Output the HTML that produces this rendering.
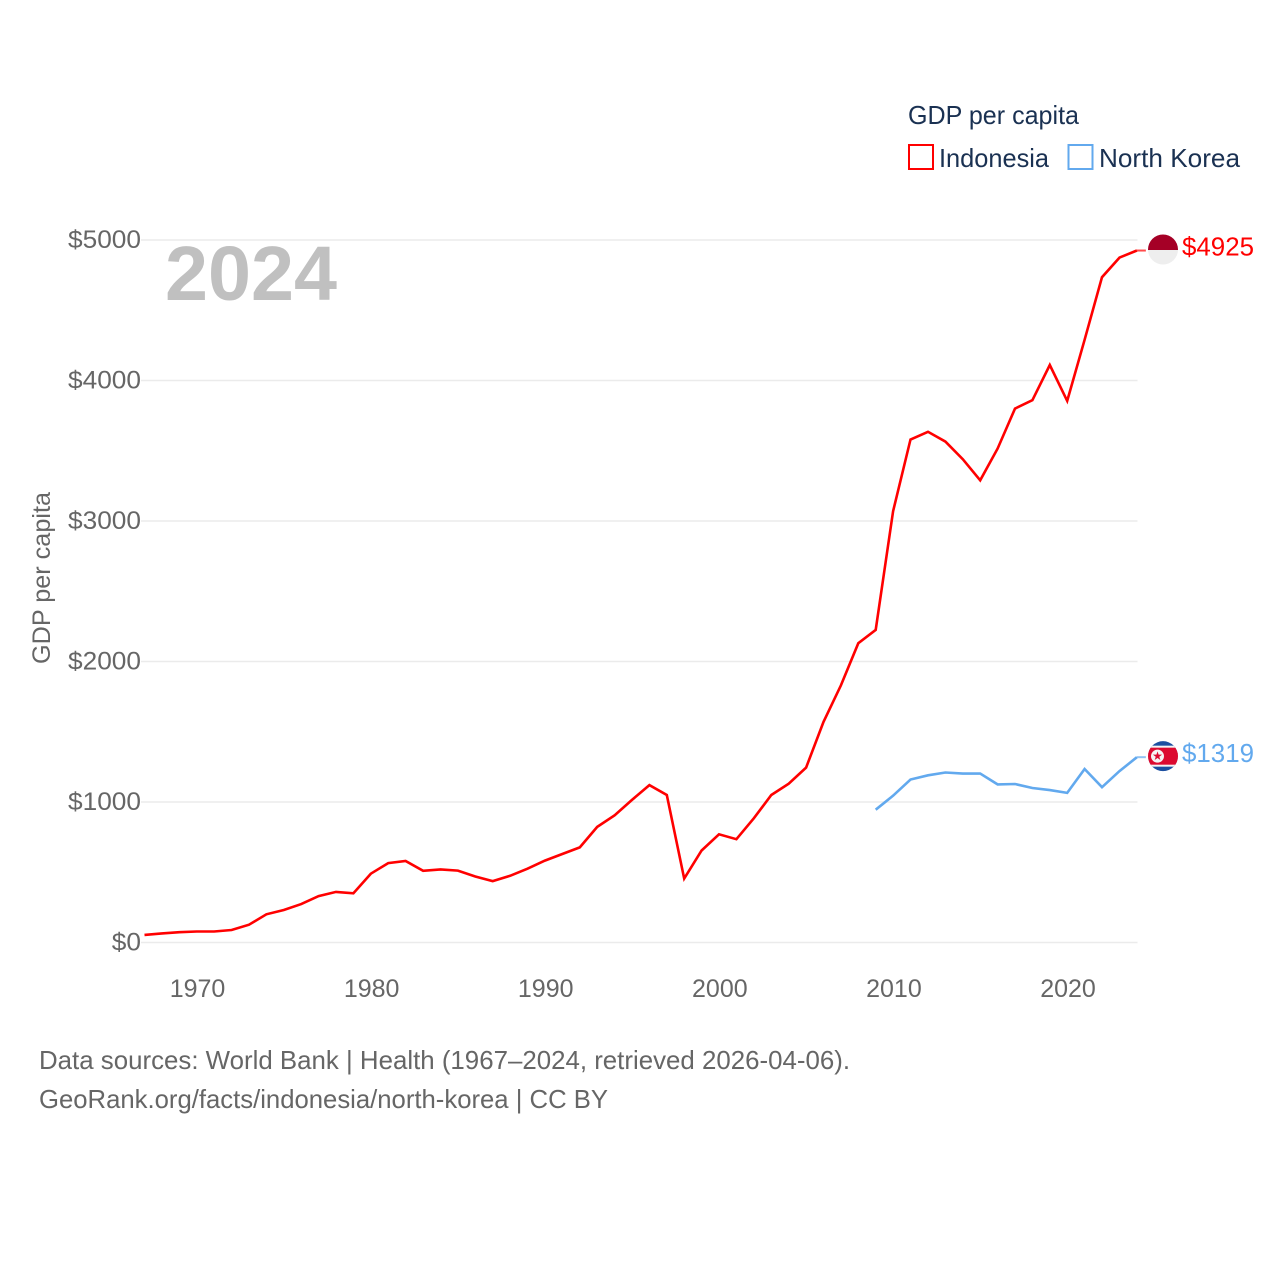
<!DOCTYPE html>
<html lang="en">
<head>
<meta charset="utf-8">
<title>GDP per capita: Indonesia and North Korea</title>
<style>
html,body{margin:0;padding:0;background:#fff;width:1280px;height:1280px;overflow:hidden}
svg{display:block}
text{font-family:"Liberation Sans",sans-serif}
</style>
</head>
<body>
<svg id="chart" xmlns="http://www.w3.org/2000/svg" width="1280" height="1280" viewBox="0 0 1280 1280">
  <defs>
    <clipPath id="clip-id"><circle id="clip-id-c" cx="1163" cy="250" r="15"></circle></clipPath>
    <clipPath id="clip-kp"><circle id="clip-kp-c" cx="1163" cy="757" r="15"></circle></clipPath>
  </defs>
  <g id="grid"></g>
  <g id="yticks"></g>
  <g id="xticks"></g>
  <text x="165" y="300" font-size="77" font-weight="700" fill="#c0c0c0" textLength="172" lengthAdjust="spacingAndGlyphs">2024</text>
  <text transform="translate(50,664) rotate(-90)" font-size="25" fill="#666" textLength="172" lengthAdjust="spacingAndGlyphs">GDP per capita</text>
  <g id="series"></g>
  <g id="flags"></g>
  <g>
    <text x="908" y="124" font-size="26" fill="#1a3152" textLength="171" lengthAdjust="spacingAndGlyphs">GDP per capita</text>
    <rect x="909" y="145" width="24" height="24" fill="none" stroke="#ff0000" stroke-width="2"></rect>
    <text x="939" y="167" font-size="26" fill="#1a3152" textLength="110" lengthAdjust="spacingAndGlyphs">Indonesia</text>
    <rect x="1068.5" y="145" width="24" height="24" fill="none" stroke="#62a9ee" stroke-width="2"></rect>
    <text x="1099" y="167" font-size="26" fill="#1a3152" textLength="141" lengthAdjust="spacingAndGlyphs">North Korea</text>
  </g>
  <text x="39" y="1069" font-size="26" fill="#666" textLength="811" lengthAdjust="spacingAndGlyphs">Data sources: World Bank | Health (1967–2024, retrieved 2026-04-06).</text>
  <text x="39" y="1108" font-size="26" fill="#666" textLength="569" lengthAdjust="spacingAndGlyphs">GeoRank.org/facts/indonesia/north-korea | CC BY</text>
</svg>
<script>
const yTickValues = [0, 1000, 2000, 3000, 4000, 5000];
const xTickYears = [1970, 1980, 1990, 2000, 2010, 2020];
const indonesiaStartYear = 1967;
const indonesiaValues = [54, 65, 73, 78, 78, 89, 127, 201, 231, 273, 330, 360, 350, 490, 565, 580, 510, 520, 512, 470, 437, 475, 525, 583, 630, 677, 823, 905, 1015, 1120, 1050, 455, 655, 770, 735, 885, 1050, 1130, 1245, 1570, 1830, 2130, 2225, 3070, 3580, 3635, 3565, 3440, 3290, 3515, 3800, 3860, 4110, 3855, 4290, 4735, 4875, 4925];
const northKoreaStartYear = 2009;
const northKoreaValues = [945, 1045, 1160, 1190, 1210, 1202, 1203, 1125, 1128, 1100, 1085, 1065, 1235, 1105, 1220, 1319];

const NS = 'http://www.w3.org/2000/svg';
function xScale(year) { return 144.5 + (year - 1967) * 17.41; }
function yScale(value) { return 942.5 - value * 0.1405; }
function make(tag, parent, attrs) {
  const el = document.createElementNS(NS, tag);
  Object.keys(attrs).forEach(function (k) { el.setAttribute(k, attrs[k]); });
  parent.appendChild(el);
  return el;
}
function pointsFor(startYear, values) {
  return values.map(function (v, i) { return xScale(startYear + i).toFixed(1) + ',' + yScale(v).toFixed(1); }).join(' ');
}

const grid = document.getElementById('grid');
const yticks = document.getElementById('yticks');
const xticks = document.getElementById('xticks');
const series = document.getElementById('series');
const flags = document.getElementById('flags');

yTickValues.forEach(function (v) {
  const line = make('line', grid, { x1: 141, x2: 1137.5, y1: yScale(v), y2: yScale(v), stroke: '#ebebeb', 'stroke-width': 1.6 });
  
  
  const text = '$' + v;
  const label = make('text', yticks, { x: 141, y: yScale(v) + 8, 'font-size': 25, fill: '#666', 'text-anchor': 'end', textLength: text.length * 14.6, lengthAdjust: 'spacingAndGlyphs' });
  
  
  label.textContent = text;
});

xTickYears.forEach(function (year) {
  const label = make('text', xticks, { x: xScale(year) + 0.8, y: 997, 'font-size': 25, fill: '#666', 'text-anchor': 'middle' });
  
  
  label.textContent = String(year);
});

function drawSeries(name, startYear, values, color) {
  const line = make('polyline', series, { points: pointsFor(startYear, values), fill: 'none', stroke: color, 'stroke-width': 2.6, 'stroke-linejoin': 'miter' });
  
  
  const lastYear = startYear + values.length - 1;
  const last = values[values.length - 1];
  const connector = make('line', series, { x1: xScale(lastYear), x2: xScale(lastYear) + 9, y1: yScale(last), y2: yScale(last), stroke: color, 'stroke-width': 2, opacity: 0.7 });
  
  
  const text = '$' + last;
  const label = make('text', series, { x: 1182, y: yScale(last) + 5, 'font-size': 25.5, fill: color, textLength: 72, lengthAdjust: 'spacingAndGlyphs' });
  
  
  label.textContent = text;
  return yScale(last) - 1;
}

const idY = drawSeries('indonesia', indonesiaStartYear, indonesiaValues, '#ff0000');
const kpY = drawSeries('north-korea', northKoreaStartYear, northKoreaValues, '#62a9ee');

document.getElementById('clip-id-c').setAttribute('cy', idY);
document.getElementById('clip-kp-c').setAttribute('cy', kpY);

const idFlag = make('g', flags, { 'clip-path': 'url(#clip-id)' });


make('rect', idFlag, { x: 1148, y: idY - 16, width: 30, height: 16.5, fill: '#a50026' });
make('rect', idFlag, { x: 1148, y: idY + 0.5, width: 30, height: 16, fill: '#eeeeee' });

const kpFlag = make('g', flags, { 'clip-path': 'url(#clip-kp)' });


make('rect', kpFlag, { x: 1148, y: kpY - 16, width: 30, height: 32, fill: '#1c4fa0' });
make('rect', kpFlag, { x: 1148, y: kpY - 10.5, width: 30, height: 21, fill: '#f4f4f4' });
make('rect', kpFlag, { x: 1148, y: kpY - 8.5, width: 30, height: 17, fill: '#dc0a30' });
make('circle', kpFlag, { cx: 1157.5, cy: kpY, r: 6.5, fill: '#f4f4f4' });
const star = make('text', kpFlag, { x: 1157.5, y: kpY + 4, 'font-size': 12, fill: '#dc0a30', 'text-anchor': 'middle', style: 'font-family:"DejaVu Sans",sans-serif' });


star.textContent = '★';
</script>
</body>
</html>
